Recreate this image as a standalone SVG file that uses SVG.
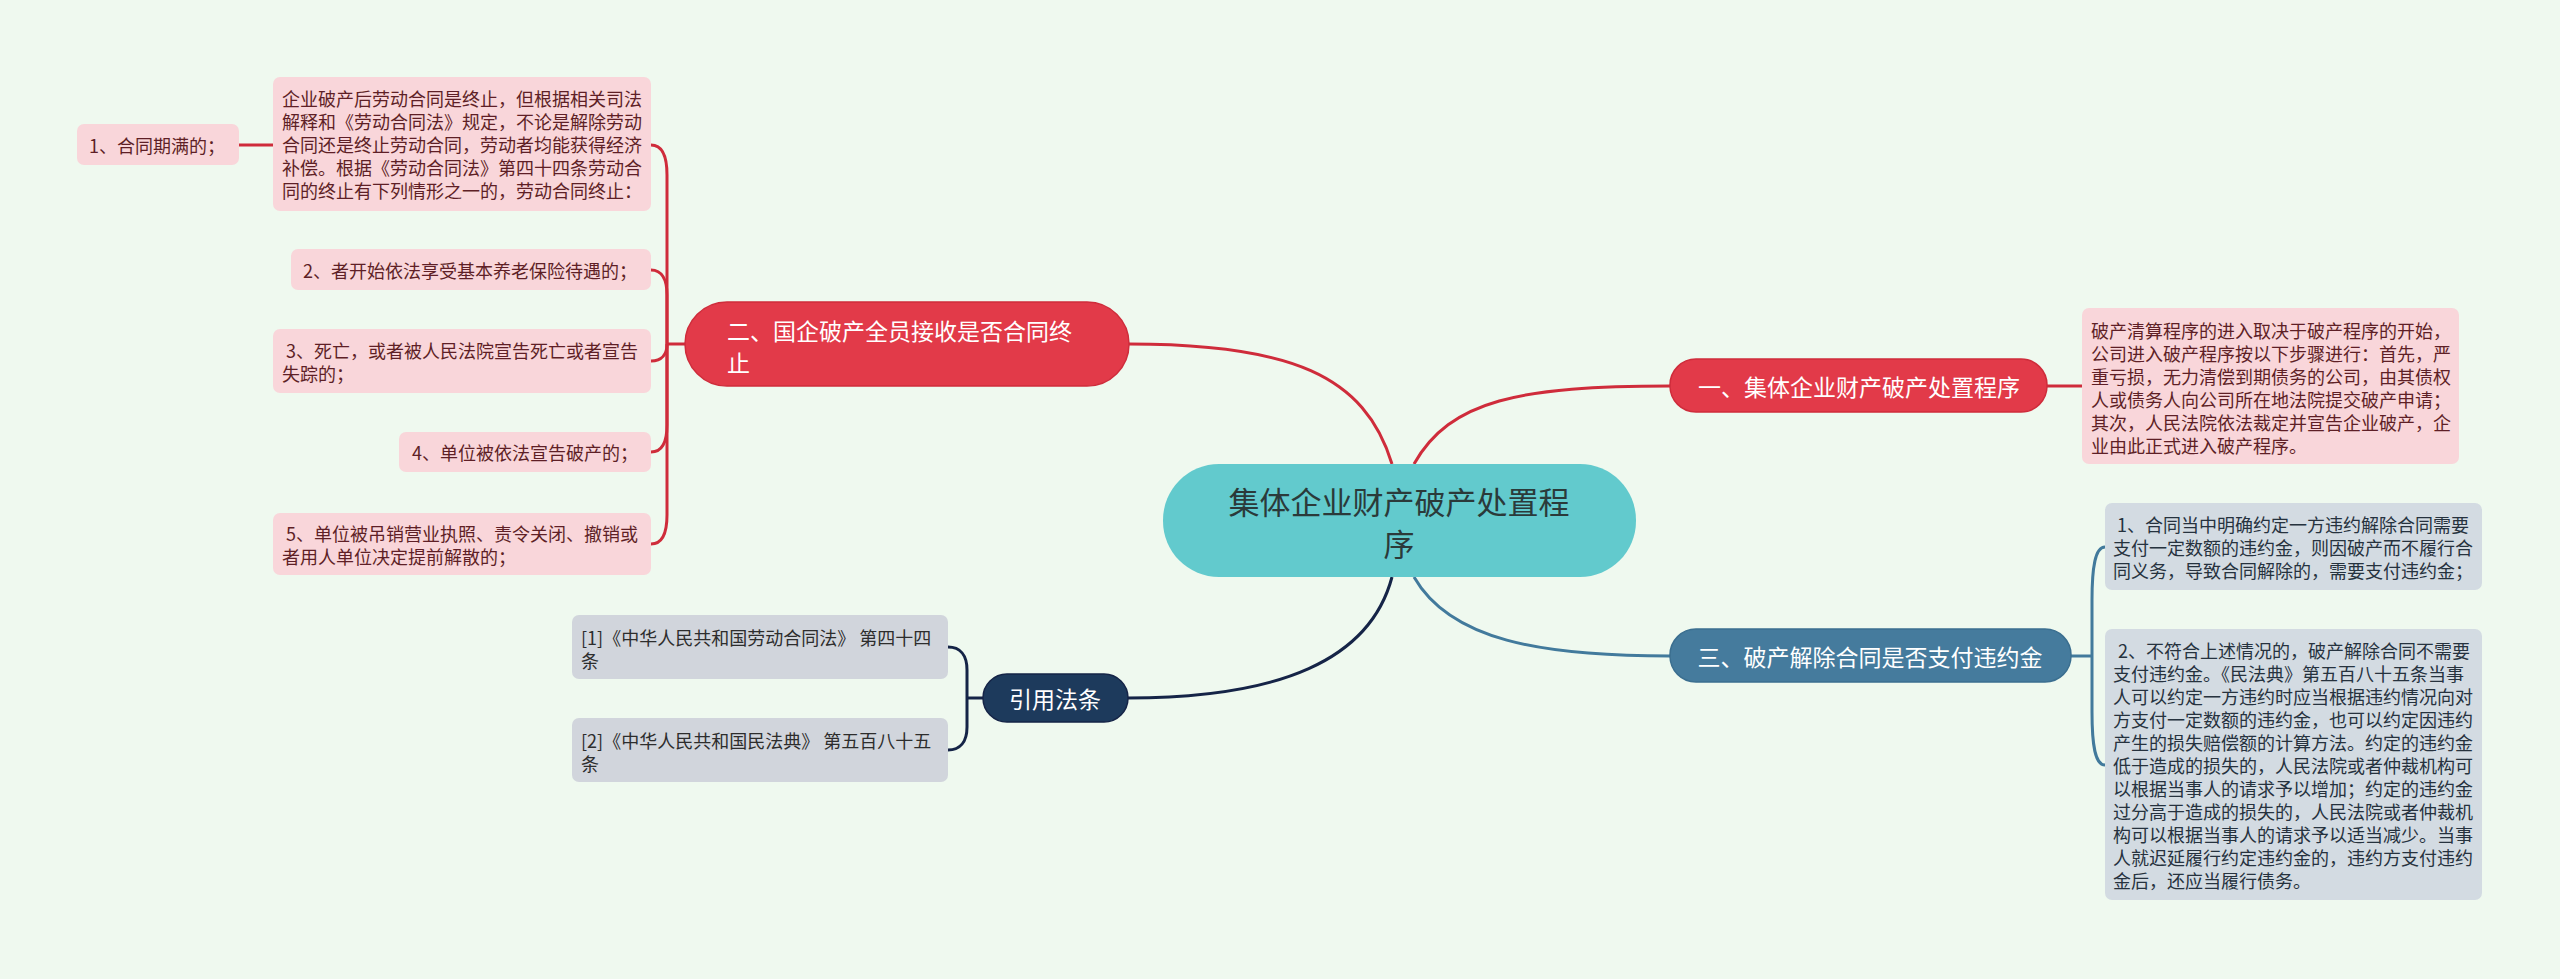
<svg xmlns="http://www.w3.org/2000/svg" width="2560" height="979" viewBox="0 0 2560 979">
<style>
text{font-family:"Noto Sans CJK SC","Noto Sans",sans-serif;dominant-baseline:central}
.pink{fill:#f9d6da}
.pt{fill:#5e1f26;font-size:18px}
.gray{fill:#d3dbe2}
.gt{fill:#26323e;font-size:18px}
.cite{fill:#d1d5dc}
.ct{fill:#2d2d2d;font-size:18px}
.red{fill:#e23a49;stroke:#cf2c3b;stroke-width:1.5}
.wt{fill:#ffffff;font-size:23px}
.lr{fill:none;stroke:#cf2c3b;stroke-width:3}
.lb{fill:none;stroke:#427a9c;stroke-width:3}
.ln{fill:none;stroke:#152447;stroke-width:3}
</style>
<rect width="2560" height="979" fill="#eff9ef"/>
<g id="connectors">
<path class="lr" d="M1392 464 C1365 375 1290 344 1129 344"/>
<path class="lr" d="M1414 464 C1450 400 1520 386 1670 386"/>
<path class="lb" d="M1414 577 C1450 640 1540 656 1670 656"/>
<path class="ln" d="M1392 577 C1370 660 1280 698 1128 698"/>
<path class="lr" d="M2047 386 H2082"/>
<path class="lr" d="M239 145 H273"/>
<path class="lr" d="M685 344 H667"/>
<path class="lr" d="M667 344 V175 C667 155 662 145 651 145"/>
<path class="lr" d="M667 344 V295 C667 280 662 270 651 270"/>
<path class="lr" d="M667 344 C667 354 662 361 651 361"/>
<path class="lr" d="M667 344 V425 C667 442 662 452 651 452"/>
<path class="lr" d="M667 344 V515 C667 533 662 544 651 544"/>
<path class="lb" d="M2071 656 H2092"/>
<path class="lb" d="M2092 656 V600 C2092 568 2095 547 2105 547"/>
<path class="lb" d="M2092 656 V712 C2092 745 2095 765 2105 765"/>
<path class="ln" d="M983 698 H967"/>
<path class="ln" d="M967 698 V670 C967 655 960 647 948 647"/>
<path class="ln" d="M967 698 V727 C967 742 960 750 948 750"/>
</g>
<g id="center">
<rect x="1163" y="464" width="473" height="113" rx="56" fill="#62cacd"/>
<text x="1399" y="500" font-size="31" fill="#2b3a3a" text-anchor="middle">集体企业财产破产处置程</text>
<text x="1399" y="542" font-size="31" fill="#2b3a3a" text-anchor="middle">序</text>
</g>
<g id="node-1">
<rect class="red" x="1670" y="359" width="377" height="53" rx="26"/>
<text class="wt" x="1859" y="386" text-anchor="middle">一、集体企业财产破产处置程序</text>
</g>
<g id="node-1-detail">
<rect class="pink" x="2082" y="308" width="377" height="156" rx="7"/>
<text class="pt" x="2091" y="330">破产清算程序的进入取决于破产程序的开始，</text>
<text class="pt" x="2091" y="353">公司进入破产程序按以下步骤进行：首先，严</text>
<text class="pt" x="2091" y="376">重亏损，无力清偿到期债务的公司，由其债权</text>
<text class="pt" x="2091" y="399">人或债务人向公司所在地法院提交破产申请；</text>
<text class="pt" x="2091" y="422">其次，人民法院依法裁定并宣告企业破产，企</text>
<text class="pt" x="2091" y="445">业由此正式进入破产程序。</text>
</g>
<g id="node-2">
<rect class="red" x="685" y="302" width="444" height="84" rx="42"/>
<text class="wt" x="727" y="330">二、国企破产全员接收是否合同终</text>
<text class="wt" x="727" y="362">止</text>
</g>
<g id="node-2-a">
<rect class="pink" x="273" y="77" width="378" height="134" rx="7"/>
<text class="pt" x="282" y="98">企业破产后劳动合同是终止，但根据相关司法</text>
<text class="pt" x="282" y="121">解释和《劳动合同法》规定，不论是解除劳动</text>
<text class="pt" x="282" y="144">合同还是终止劳动合同，劳动者均能获得经济</text>
<text class="pt" x="282" y="167">补偿。根据《劳动合同法》第四十四条劳动合</text>
<text class="pt" x="282" y="190">同的终止有下列情形之一的，劳动合同终止：</text>
</g>
<g id="node-2-a-1">
<rect class="pink" x="77" y="124" width="162" height="41" rx="7"/>
<text class="pt" x="89" y="145">1、合同期满的；</text>
</g>
<g id="node-2-b">
<rect class="pink" x="291" y="249" width="360" height="41" rx="7"/>
<text class="pt" x="303" y="270">2、者开始依法享受基本养老保险待遇的；</text>
</g>
<g id="node-2-c">
<rect class="pink" x="273" y="329" width="378" height="64" rx="7"/>
<text class="pt" x="286" y="350">3、死亡，或者被人民法院宣告死亡或者宣告</text>
<text class="pt" x="282" y="373">失踪的；</text>
</g>
<g id="node-2-d">
<rect class="pink" x="399" y="432" width="252" height="40" rx="7"/>
<text class="pt" x="412" y="452">4、单位被依法宣告破产的；</text>
</g>
<g id="node-2-e">
<rect class="pink" x="273" y="513" width="378" height="62" rx="7"/>
<text class="pt" x="286" y="533">5、单位被吊销营业执照、责令关闭、撤销或</text>
<text class="pt" x="282" y="556">者用人单位决定提前解散的；</text>
</g>
<g id="node-3">
<rect x="1670" y="629" width="401" height="53" rx="26" fill="#457b9d" stroke="#3b6f90" stroke-width="1.5"/>
<text class="wt" x="1870" y="656" text-anchor="middle">三、破产解除合同是否支付违约金</text>
</g>
<g id="node-3-a">
<rect class="gray" x="2105" y="503" width="377" height="87" rx="7"/>
<text class="gt" x="2117" y="524">1、合同当中明确约定一方违约解除合同需要</text>
<text class="gt" x="2113" y="547">支付一定数额的违约金，则因破产而不履行合</text>
<text class="gt" x="2113" y="570">同义务，导致合同解除的，需要支付违约金；</text>
</g>
<g id="node-3-b">
<rect class="gray" x="2105" y="629" width="377" height="271" rx="7"/>
<text class="gt" x="2118" y="650">2、不符合上述情况的，破产解除合同不需要</text>
<text class="gt" x="2113" y="673">支付违约金。《民法典》第五百八十五条当事</text>
<text class="gt" x="2113" y="696">人可以约定一方违约时应当根据违约情况向对</text>
<text class="gt" x="2113" y="719">方支付一定数额的违约金，也可以约定因违约</text>
<text class="gt" x="2113" y="742">产生的损失赔偿额的计算方法。约定的违约金</text>
<text class="gt" x="2113" y="765">低于造成的损失的，人民法院或者仲裁机构可</text>
<text class="gt" x="2113" y="788">以根据当事人的请求予以增加；约定的违约金</text>
<text class="gt" x="2113" y="811">过分高于造成的损失的，人民法院或者仲裁机</text>
<text class="gt" x="2113" y="834">构可以根据当事人的请求予以适当减少。当事</text>
<text class="gt" x="2113" y="857">人就迟延履行约定违约金的，违约方支付违约</text>
<text class="gt" x="2113" y="880">金后，还应当履行债务。</text>
</g>
<g id="node-4">
<rect x="983" y="674" width="145" height="48" rx="24" fill="#1d3a5c" stroke="#152447" stroke-width="1.5"/>
<text class="wt" x="1055" y="698" text-anchor="middle">引用法条</text>
</g>
<g id="node-4-a">
<rect class="cite" x="572" y="615" width="376" height="64" rx="7"/>
<text class="ct" x="581" y="637">[1]《中华人民共和国劳动合同法》 第四十四</text>
<text class="ct" x="581" y="660">条</text>
</g>
<g id="node-4-b">
<rect class="cite" x="572" y="718" width="376" height="64" rx="7"/>
<text class="ct" x="581" y="740">[2]《中华人民共和国民法典》 第五百八十五</text>
<text class="ct" x="581" y="763">条</text>
</g>
</svg>
